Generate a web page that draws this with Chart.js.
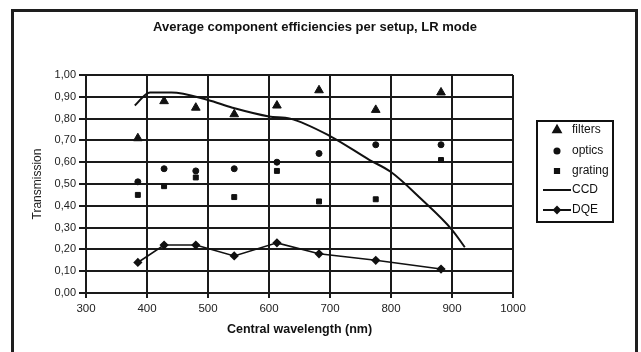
<!DOCTYPE html>
<html>
<head>
<meta charset="utf-8">
<script src="https://cdn.jsdelivr.net/npm/chart.js@4.4.1/dist/chart.umd.min.js"></script>
<style>
  html, body { margin: 0; padding: 0; background: #fff; }
  #wrap { width: 641px; height: 352px; }
</style>
</head>
<body>
<div id="wrap"><canvas id="chart" width="641" height="352"></canvas></div>
<script>
// setups (central wavelength, nm)
const setupWavelengths = [385, 428, 480, 543, 613, 682, 775, 882];
const filtersValues = [0.71, 0.88, 0.85, 0.82, 0.86, 0.93, 0.84, 0.92];
const opticsValues  = [0.51, 0.57, 0.56, 0.57, 0.60, 0.64, 0.68, 0.68];
const gratingValues = [0.45, 0.49, 0.53, 0.44, 0.56, 0.42, 0.43, 0.61];
const dqeValues     = [0.14, 0.22, 0.22, 0.17, 0.23, 0.18, 0.15, 0.11];

// CCD curve
const ccdWavelengths = [380, 405, 440, 500, 540, 600, 635, 700, 765, 800, 850, 900, 921];
const ccdValues      = [0.86, 0.92, 0.92, 0.885, 0.85, 0.81, 0.80, 0.72, 0.61, 0.555, 0.43, 0.29, 0.21];

const xTicks = [300, 400, 500, 600, 700, 800, 900, 1000];

const FONT = '"Liberation Sans", Arial, sans-serif';

function toPoints(xs, ys) {
  return xs.map((x, i) => ({ x: x, y: ys[i] }));
}

// outer frame + title + boxed legend
const decorPlugin = {
  id: 'decor',
  afterDraw(chart) {
    const ctx = chart.ctx;
    ctx.save();
    ctx.strokeStyle = '#1e1e1e';
    ctx.lineWidth = 3;
    ctx.strokeRect(12.5, 10.5, 624, 360);

    ctx.fillStyle = '#111';
    ctx.font = 'bold 13px ' + FONT;
    ctx.textAlign = 'center';
    ctx.textBaseline = 'middle';
    ctx.fillText('Average component efficiencies per setup, LR mode', 315, 27);

    // legend box
    ctx.lineWidth = 2;
    ctx.strokeStyle = '#111';
    ctx.strokeRect(537, 121, 76, 101);
    const rows = [130, 151, 171, 190, 210];
    ctx.font = '12px ' + FONT;
    ctx.textAlign = 'left';
    chart.data.datasets.forEach((ds, i) => {
      const y = rows[i];
      ctx.fillStyle = '#111';
      ctx.strokeStyle = '#111';
      if (ds.showLine) {
        ctx.lineWidth = 2;
        ctx.beginPath();
        ctx.moveTo(543, y);
        ctx.lineTo(571, y);
        ctx.stroke();
      }
      if (ds.pointRadius > 0) {
        Chart.helpers.drawPoint(ctx, {
          pointStyle: ds.pointStyle,
          radius: ds.pointRadius * 0.85,
          rotation: 0,
          borderWidth: 1
        }, 557, y);
        ctx.fill();
      }
      ctx.fillStyle = '#111';
      ctx.fillText(ds.label, 572, y);
    });
    ctx.restore();
  }
};

const ctx = document.getElementById('chart').getContext('2d');
new Chart(ctx, {
  type: 'scatter',
  data: {
    datasets: [
      {
        label: 'filters',
        data: toPoints(setupWavelengths, filtersValues),
        pointStyle: 'triangle', pointRadius: 5,
        backgroundColor: '#111', borderColor: '#111', borderWidth: 1,
        showLine: false
      },
      {
        label: 'optics',
        data: toPoints(setupWavelengths, opticsValues),
        pointStyle: 'circle', pointRadius: 3,
        backgroundColor: '#111', borderColor: '#111', borderWidth: 1,
        showLine: false
      },
      {
        label: 'grating',
        data: toPoints(setupWavelengths, gratingValues),
        pointStyle: 'rect', pointRadius: 3.5,
        backgroundColor: '#111', borderColor: '#111', borderWidth: 1,
        showLine: false
      },
      {
        label: 'CCD',
        data: toPoints(ccdWavelengths, ccdValues),
        pointRadius: 0,
        borderColor: '#111', borderWidth: 2,
        showLine: true, cubicInterpolationMode: 'monotone'
      },
      {
        label: 'DQE',
        data: toPoints(setupWavelengths, dqeValues),
        pointStyle: 'rectRot', pointRadius: 3.5,
        backgroundColor: '#111', borderColor: '#111', borderWidth: 1.6,
        showLine: true
      }
    ]
  },
  options: {
    responsive: false,
    animation: false,
    layout: { padding: { left: 28, right: 128, top: 75, bottom: 11 } },
    plugins: {
      legend: { display: false },
      tooltip: { enabled: false },
      title: { display: false }
    },
    scales: {
      x: {
        type: 'linear',
        min: 300, max: 1000,
        afterBuildTicks: axis => { axis.ticks = xTicks.map(v => ({ value: v })); },
        afterFit: axis => { axis.height = 48; },
        grid: { color: '#1a1a1a', lineWidth: 2, tickLength: 5, tickColor: '#1a1a1a' },
        border: { color: '#1a1a1a', width: 2 },
        ticks: {
          color: '#222', font: { family: FONT, size: 11.5 }, padding: 4, maxRotation: 0,
          callback: v => String(v)
        },
        title: {
          display: true, text: 'Central wavelength (nm)', color: '#111',
          font: { family: FONT, size: 12.5, weight: 'bold' }, padding: { top: 4, bottom: 4 }
        }
      },
      y: {
        min: 0, max: 1,
        ticks: {
          stepSize: 0.1, color: '#222', font: { family: FONT, size: 11 }, padding: 3,
          callback: v => v.toFixed(2).replace('.', ',')
        },
        afterFit: axis => { axis.width = 58; },
        grid: { color: '#1a1a1a', lineWidth: 2, tickLength: 7, tickColor: '#1a1a1a' },
        border: { color: '#1a1a1a', width: 2 },
        title: {
          display: true, text: 'Transmission', color: '#222',
          font: { family: FONT, size: 12 }, padding: { top: 2, bottom: 2 }
        }
      }
    }
  },
  plugins: [decorPlugin]
});
</script>
</body>
</html>
